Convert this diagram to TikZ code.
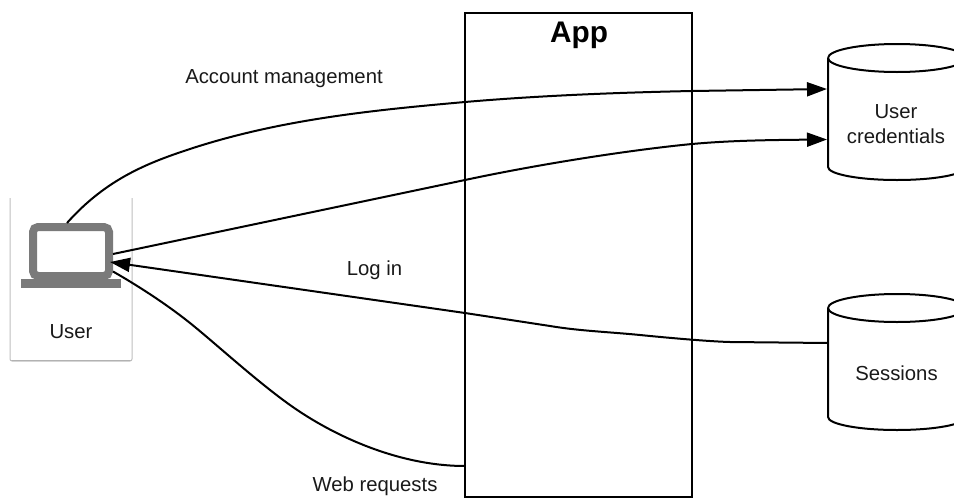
\documentclass[tikz,border=0pt]{standalone}
\usepackage{fontspec}
\setmainfont{Liberation Sans}
\usetikzlibrary{arrows.meta}
\tikzset{
  lbl/.style={inner sep=0pt,outer sep=0pt,align=center,font=\fontsize{20.3}{25}\selectfont,text=black!90},
  conn/.style={draw=black,line width=2pt,line join=round},
  arr/.style={conn,-{Triangle[length=20pt,width=14pt]}},
  store/.style={inner sep=0pt,outer sep=0pt,minimum width=138pt,minimum height=136pt},
  storeline/.style={draw=black,line width=2pt,line join=round},
  gadget/.style={fill=black!52,draw=none,inner sep=0pt,outer sep=0pt}
}
\begin{document}
\begin{tikzpicture}[x=1pt,y=-1pt]
\useasboundingbox (0,0) rectangle (954,498);
\clip (0,0) rectangle (954,498);
% user card
\node[inner sep=0pt,outer sep=0pt,fill=white,minimum width=122pt,minimum height=163pt] (card) at (71,278.5) {};
\draw[black!25,line width=1pt,rounded corners=2pt] ([yshift=-1pt]card.north west) -- ([yshift=-1pt]card.south west) -- ([yshift=-1pt]card.south east) -- ([yshift=-1pt]card.north east);
\draw[black!30,line width=1.6pt,line cap=round] ([xshift=2pt,yshift=-.5pt]card.south west) -- ([xshift=-2pt,yshift=-.5pt]card.south east);
\node[gadget,minimum width=100pt,minimum height=9pt] (laptopbase) at (71,283.5) {};
\node[draw=black!52,line width=8pt,fill=white,rounded corners=5pt,inner sep=0pt,minimum width=76pt,minimum height=49pt,outer sep=4pt] (laptop) at (71,251.5) {};
\node[lbl] (usertext) at (71,332) {User};
% app
\node[draw=black,line width=2pt,inner sep=0pt,outer sep=0pt,minimum width=227pt,minimum height=484pt] (app) at (578.5,255) {};
\node[inner sep=0pt,font=\fontsize{29.8}{32}\selectfont\bfseries] (apptitle) at (579,35) {App};
% stores
\node[store] (cred) at (897,112) {};
\node[store] (sess) at (897,362) {};
\foreach \n in {cred,sess}{
  \draw[storeline] ([yshift=-14pt]\n.north west) arc[start angle=180,delta angle=360,x radius=69pt,y radius=14pt];
  \draw[storeline] ([yshift=-14pt]\n.north west) -- ([yshift=13pt]\n.south west) arc[start angle=180,end angle=360,x radius=69pt,y radius=13pt] -- ([yshift=-14pt]\n.north east);
}
\node[lbl] (credtext) at (896,124) {User\\credentials};
\node[lbl] (sesstext) at (896.5,373.5) {Sessions};
% labels
\node[lbl] (acct) at (284,78.5) {Account management};
\node[lbl] (login) at (374.5,270) {Log in};
\node[lbl] (web) at (375,486) {Web requests};
% connectors
\draw[arr] ([xshift=-4pt]laptop.north) .. controls (107,178) and (150,162) .. (193,148) .. controls (283,119) and (375,110) .. (465,102) .. controls (540,95.5) and (620,92.5) .. (692,91) -- ([xshift=-1pt,yshift=23pt]cred.west);
\draw[arr] ([yshift=-2.5pt]laptop.east) -- (465,180) .. controls (540,164) and (630,150) .. (692,144) .. controls (730,140.5) and (770,140) .. ([xshift=-1pt,yshift=-27.5pt]cred.west);
\draw[arr] ([yshift=19pt]sess.west) -- (730,342) .. controls (710,341.5) and (670,338) .. (640,335) .. controls (610,332) and (580,331) .. (550,326) -- (465,313) -- ([xshift=-3pt,yshift=-10.5pt]laptop.east);
\draw[conn] ([yshift=-20pt]laptop.east) .. controls (135,284) and (165,303) .. (190,323) .. controls (215,343) and (255,380) .. (290,405) .. controls (335,437) and (400,466) .. ([yshift=-211pt]app.west);
\end{tikzpicture}
\end{document}
